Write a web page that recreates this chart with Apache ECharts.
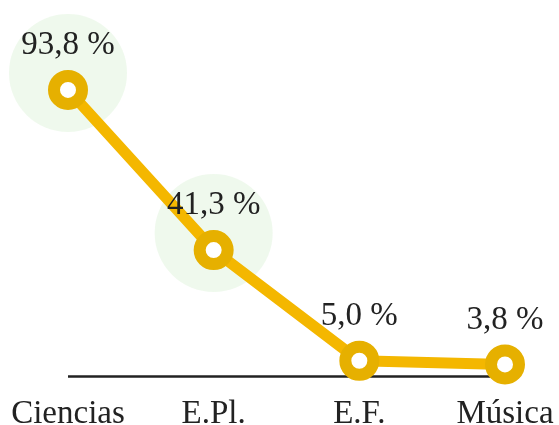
<!DOCTYPE html>
<html>
<head>
<meta charset="utf-8">
<script src="https://cdn.jsdelivr.net/npm/echarts@6/dist/echarts.min.js"></script>
<style>
  html, body { margin: 0; padding: 0; background: #fff; }
  #chart { width: 559px; height: 425px; }
</style>
</head>
<body>
<div id="chart"></div>
<script>
// Subjects along the horizontal axis
const categories = ['Ciencias', 'E.Pl.', 'E.F.', 'Música'];
// Percentage per subject
const shares = [93.8, 41.3, 5.0, 3.8];
// Subjects highlighted with a soft green disc
const highlighted = ['Ciencias', 'E.Pl.'];

const fmt = v => v.toFixed(1).replace('.', ',') + ' %';
const serif = 'Liberation Serif, Times New Roman, serif';

const lineData = shares.map((v, i) => [i, v]);
const haloData = shares.map((v, i) => highlighted.includes(categories[i]) ? [i, v] : null).filter(Boolean);

const chart = echarts.init(document.getElementById('chart'));
chart.setOption({
  animation: false,
  grid: { left: 68, right: 54, top: 71, bottom: 49, outerBoundsMode: 'none', containLabel: false },
  xAxis: {
    type: 'value', min: 0, max: 3, interval: 1,
    axisLine: { show: false }, axisTick: { show: false }, splitLine: { show: false },
    axisLabel: {
      formatter: v => categories[v] || '',
      fontFamily: serif, fontSize: 33, color: '#222', margin: 22, lineHeight: 33
    }
  },
  yAxis: { type: 'value', min: 0, max: 100, show: false },
  series: [
    {
      type: 'scatter', z: 1, silent: true,
      data: haloData,
      symbol: 'circle', symbolSize: 118, symbolOffset: [0, -17],
      itemStyle: { color: '#EBF8E8' }
    },
    {
      type: 'line', z: 3,
      data: lineData,
      lineStyle: { color: '#F4B700', width: 11 },
      symbol: 'circle', symbolSize: 28,
      itemStyle: { color: '#fff', borderColor: '#E6B000', borderWidth: 12 },
      label: {
        show: true, position: 'top', distance: 8,
        formatter: p => fmt(p.value[1]),
        fontFamily: serif, fontSize: 33, color: '#222', lineHeight: 33
      },
      markLine: {
        silent: true, symbol: 'none', z: 2,
        label: { show: false },
        lineStyle: { color: '#222', width: 2.5, type: 'solid' },
        data: [[{ coord: [0, 0] }, { coord: [2.9, 0] }]]
      }
    }
  ]
});
</script>
</body>
</html>
